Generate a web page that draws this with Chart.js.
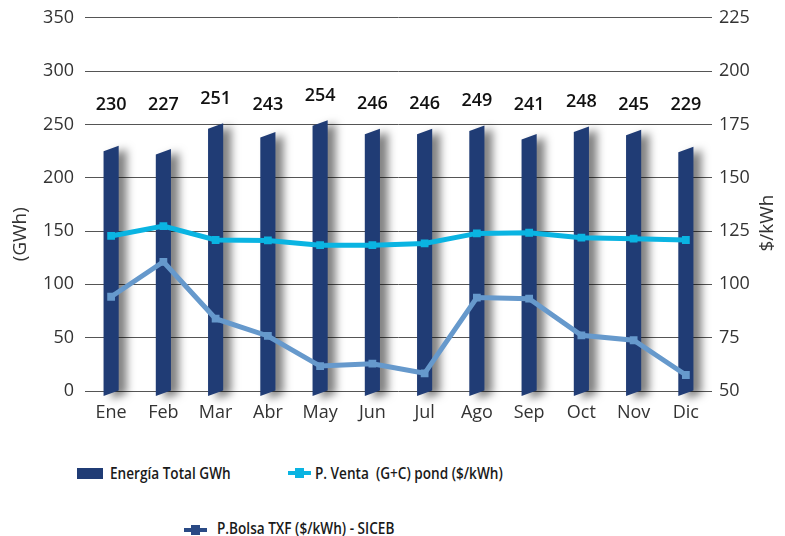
<!DOCTYPE html>
<html>
<head>
<meta charset="utf-8">
<script src="https://cdn.jsdelivr.net/npm/chart.js@4.4.1/dist/chart.umd.min.js"></script>
<style>
  body { margin: 0; background: #fff; }
  #wrap { position: relative; width: 785px; height: 536px; font-family: 'Open Sans', sans-serif; color: #1a1a1a; overflow: hidden; }
  #chart { position: absolute; left: 0; top: -4px; }
  .leg { position: absolute; font-size: 16px; font-weight: 600; white-space: pre; line-height: 20px; transform: scaleX(0.85); transform-origin: left center; }
  .box { position: absolute; width: 26px; height: 11px; background: #203c75; }
  .ln { position: absolute; width: 23px; height: 4px; }
  .ln span { position: absolute; left: 7px; top: -3px; width: 9px; height: 10px; }
</style>
</head>
<body>
<div id="wrap">
  <canvas id="chart" width="785" height="445"></canvas>

  <div class="box" style="left:77px; top:468px;"></div>
  <div class="leg" style="left:110px; top:463px;">Energía Total GWh</div>

  <div class="ln" style="left:288px; top:471px; background:#0ab4e2;"><span style="background:#0ab4e2;"></span></div>
  <div class="leg" style="left:315px; top:463px;">P. Venta  (G+C) pond ($/kWh)</div>

  <div class="ln" style="left:184px; top:528px; background:#2a4a85;"><span style="background:#2a4a85;"></span></div>
  <div class="leg" style="left:217px; top:518px;">P.Bolsa TXF ($/kWh) - SICEB</div>
</div>

<script>
const months = ['Ene', 'Feb', 'Mar', 'Abr', 'May', 'Jun', 'Jul', 'Ago', 'Sep', 'Oct', 'Nov', 'Dic'];
const energia = [230, 227, 251, 243, 254, 246, 246, 249, 241, 248, 245, 229];
const pVenta = [122.7, 127.3, 120.8, 120.6, 118.4, 118.4, 119.2, 123.9, 124.2, 121.9, 121.4, 120.8];
const pBolsa = [94.2, 110.6, 83.9, 75.8, 61.7, 62.8, 58.3, 93.8, 93.3, 76.1, 73.8, 57.5];

const leftTicks = { min: 0, max: 350, step: 50 };
const rightTicks = { min: 50, max: 225, step: 25 };

const navy = '#203c75';
const cyan = '#0ab4e2';
const steel = '#6699cc';

// bars drawn as slanted columns with a soft shadow to the right
const slantBars = {
  id: 'slantBars',
  beforeDatasetDraw(chart, args) {
    if (args.index !== 0) return;
    const ctx = chart.ctx;
    ctx.save();
    ctx.fillStyle = navy;
    ctx.shadowColor = 'rgba(0,0,0,0.5)';
    ctx.shadowBlur = 8;
    ctx.shadowOffsetX = 8;
    ctx.shadowOffsetY = 3;
    args.meta.data.forEach(bar => {
      const { x, y, base, width } = bar.getProps(['x', 'y', 'base', 'width'], true);
      const l = x - width / 2, r = x + width / 2, s = 5.5;
      ctx.beginPath();
      ctx.moveTo(l, y + s);
      ctx.lineTo(r, y);
      ctx.lineTo(r, base);
      ctx.lineTo(l, base + s);
      ctx.closePath();
      ctx.fill();
    });
    ctx.restore();
    return false;
  },
  afterDatasetsDraw(chart) {
    const ctx = chart.ctx;
    const yScale = chart.scales.y;
    ctx.save();
    ctx.font = '600 18px "Open Sans"';
    ctx.fillStyle = '#111';
    ctx.textAlign = 'center';
    ctx.textBaseline = 'middle';
    chart.getDatasetMeta(0).data.forEach((bar, i) => {
      const v = energia[i];
      ctx.fillText(String(v), bar.x, yScale.getPixelForValue(Math.max(v, 245) + 23));
    });

    // axis titles
    const a = chart.chartArea;
    ctx.font = '19px "Open Sans"';
    ctx.fillStyle = '#333';
    ctx.translate(21, a.top + a.height * 0.58);
    ctx.rotate(-Math.PI / 2);
    ctx.fillText('(GWh)', 0, 0);
    ctx.restore();

    ctx.save();
    ctx.font = '19px "Open Sans"';
    ctx.fillStyle = '#333';
    ctx.textAlign = 'center';
    ctx.textBaseline = 'middle';
    ctx.translate(768, a.top + a.height * 0.55);
    ctx.rotate(-Math.PI / 2);
    ctx.fillText('$/kWh', 0, 0);
    ctx.restore();
  }
};

new Chart(document.getElementById('chart'), {
  data: {
    labels: months,
    datasets: [
      {
        type: 'bar',
        label: 'Energía Total GWh',
        data: energia,
        backgroundColor: navy,
        yAxisID: 'y',
        barPercentage: 0.29,
        categoryPercentage: 1,
        order: 3
      },
      {
        type: 'line',
        label: 'P. Venta  (G+C) pond ($/kWh)',
        data: pVenta,
        borderColor: cyan,
        backgroundColor: cyan,
        borderWidth: 5,
        pointStyle: 'rect',
        pointRadius: 5.5,
        pointBorderWidth: 0,
        yAxisID: 'y1',
        order: 1
      },
      {
        type: 'line',
        label: 'P.Bolsa TXF ($/kWh) - SICEB',
        data: pBolsa,
        borderColor: steel,
        backgroundColor: steel,
        borderWidth: 5,
        pointStyle: 'rect',
        pointRadius: 5.5,
        pointBorderWidth: 0,
        yAxisID: 'y1',
        order: 2
      }
    ]
  },
  options: {
    responsive: false,
    animation: false,
    layout: { padding: { top: 8, left: 0, right: 0, bottom: 0 } },
    plugins: {
      legend: { display: false },
      tooltip: { enabled: false }
    },
    scales: {
      x: {
        grid: { display: false, drawTicks: false },
        border: { display: false },
        ticks: { color: '#333', font: { family: 'Open Sans', size: 18 }, padding: 11 },
        afterFit: s => { s.height = 50; }
      },
      y: {
        position: 'left',
        min: leftTicks.min,
        max: leftTicks.max,
        ticks: { stepSize: leftTicks.step, color: '#333', font: { family: 'Open Sans', size: 18 }, padding: 11 },
        grid: { color: '#555', lineWidth: 1, drawTicks: false },
        border: { display: false },
        afterFit: s => { s.width = 85; }
      },
      y1: {
        position: 'right',
        min: rightTicks.min,
        max: rightTicks.max,
        ticks: { stepSize: rightTicks.step, color: '#333', font: { family: 'Open Sans', size: 18 }, padding: 7 },
        grid: { display: false, drawTicks: false },
        border: { display: false },
        afterFit: s => { s.width = 73; }
      }
    }
  },
  plugins: [slantBars]
});
</script>
</body>
</html>
